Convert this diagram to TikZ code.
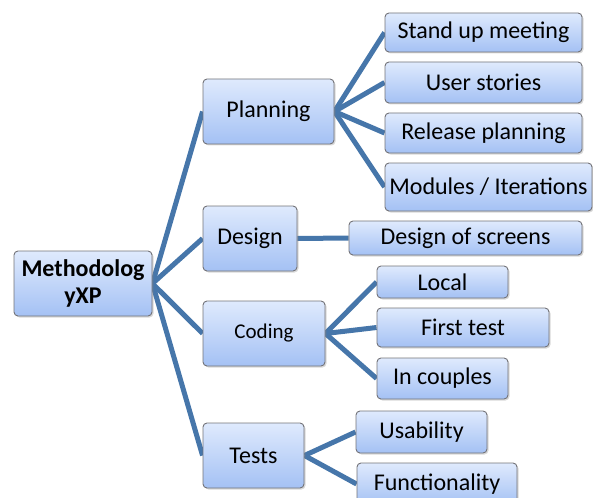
\documentclass[tikz,border=0pt]{standalone}
\usepackage{fontspec}
\setmainfont{Carlito}
\usetikzlibrary{shadows,backgrounds}
\definecolor{linkc}{RGB}{70,118,170}
\definecolor{boxtop}{RGB}{223,234,253}
\definecolor{boxbot}{RGB}{164,193,244}
\definecolor{boxline}{RGB}{115,115,120}
\begin{document}
\begin{tikzpicture}[x=1pt,y=-1pt,
  box/.style={draw=boxline, line width=0.9pt, rounded corners=4pt,
    top color=boxtop, bottom color=boxbot, inner sep=0pt,
    font=\fontsize{24}{28}\selectfont,
    drop shadow={shadow xshift=1.5pt, shadow yshift=-1.5pt, opacity=0.3}},
  link/.style={draw=linkc, line width=5pt, line join=round}]
\useasboundingbox (0,0) rectangle (593,497);
% level 0
\node[box, minimum width=138pt, minimum height=65pt, align=center] (root) at (83,283.5)
  {\bfseries Methodolog\\[-1pt]\bfseries yXP};
% level 1
\node[box, minimum width=131pt, minimum height=65pt] (plan) at (268.5,111.5) {Planning};
\node[box, minimum width=94pt, minimum height=65pt] (design) at (250,238.5) {Design};
\node[box, minimum width=122pt, minimum height=65pt, font=\fontsize{21}{25}\selectfont] (coding) at (264,333.5) {Coding};
\node[box, minimum width=101pt, minimum height=65pt] (tests) at (253.5,455.5) {Tests};
% level 2
\node[box, minimum width=197pt, minimum height=39pt] (stand) at (483.5,32.5) {Stand up meeting};
\node[box, minimum width=197pt, minimum height=41pt] (user) at (483.5,82.5) {User stories};
\node[box, minimum width=197pt, minimum height=40pt] (release) at (483.5,133) {Release planning};
\node[box, minimum width=207pt, minimum height=48pt] (modules) at (488.5,187) {Modules / Iterations};
\node[box, minimum width=233pt, minimum height=34pt] (screens) at (465.5,238) {Design of screens};
\node[box, minimum width=131pt, minimum height=32pt] (local) at (442.5,282) {Local};
\node[box, minimum width=172pt, minimum height=39pt] (first) at (463,327.5) {First test};
\node[box, minimum width=131pt, minimum height=41pt] (couples) at (442.5,378.5) {In couples};
\node[box, minimum width=131pt, minimum height=42pt] (usab) at (421.5,432) {Usability};
\node[box, minimum width=160pt, minimum height=42pt] (func) at (437,484) {Functionality};
\begin{pgfonlayer}{background}
  \draw[link] (root.east) -- (plan.west);
  \draw[link] (root.east) -- (design.west);
  \draw[link] (root.east) -- (coding.west);
  \draw[link] (root.east) -- (tests.west);
  \draw[link] (plan.east) -- (stand.west);
  \draw[link] (plan.east) -- (user.west);
  \draw[link] (plan.east) -- (release.west);
  \draw[link] (plan.east) -- (modules.west);
  \draw[link] (design.east) -- (screens.west);
  \draw[link] (coding.east) -- (local.west);
  \draw[link] (coding.east) -- (first.west);
  \draw[link] (coding.east) -- (couples.west);
  \draw[link] (tests.east) -- (usab.west);
  \draw[link] (tests.east) -- (func.west);
\end{pgfonlayer}
\end{tikzpicture}
\end{document}
